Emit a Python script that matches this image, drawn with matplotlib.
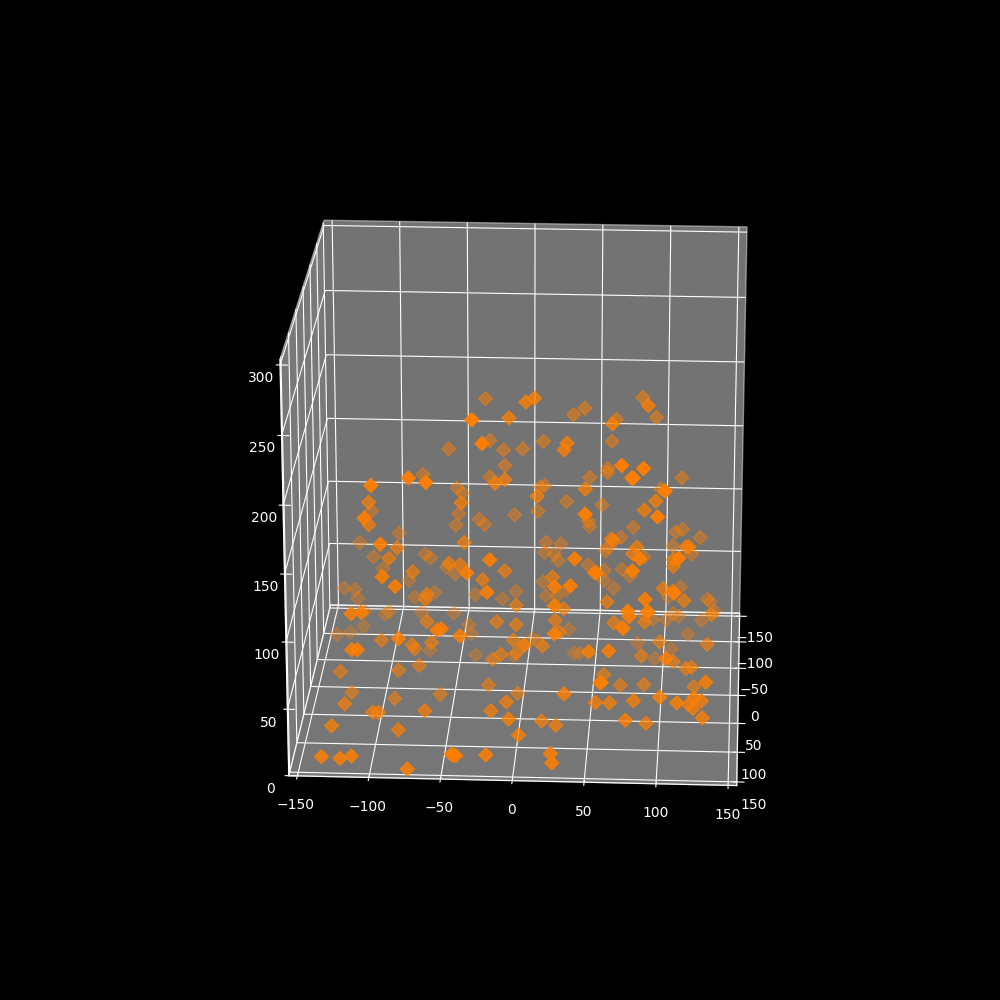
import matplotlib
matplotlib.use("Agg")
import matplotlib.pyplot as plt
import numpy as np

# points grouped by depth band (y)
y_far = -60
x_far = [-31, -28, -58, -18, -17, -28, -77, -52, -48, -115, -51, -53, -10, -36, -32, -95, -124, -114, -76, -72,
         -60, -54, -107, -88, -136, -128, -126, -121, -103, -106, -84, -69, -79, -55, -39, -19, -9, -122, -142,
         -132, -73, -44, -42, -39, -11,
         41, 33, 83, 93, 64, 11, -4, 61, 58, 58, 112, 45, 97, 9, 12, 28, 7, 54, 44, 45, 77, 108, 113, 126, 68,
         13, 24, 12, 19, 22, 58, 57, 85, 106, 120, 44, 56, 69, 75, 11, 56, 28, 13, 21, 63, 112, 103, 132, 134,
         88, 86, 92, 69, 102, 107, 111, 128, 137, 30, 3, 7, 34, 38, 81, 106, 94, 118]
z_far = [202, 170, 163, 163, 151, 142, 143, 133, 129, 114, 113, 104, 113, 109, 105, 97, 89, 78, 81, 78,
         71, 66, 69, 60, 53, 52, 45, 35, 35, 33, 47, 51, 35, 35, 50, 47, 53, 23, 16,
         18, 5, 26, 19, 2, 2,
         196, 191, 205, 190, 188, 170, 164, 171, 150, 147, 144, 143, 135, 135, 136, 124, 116, 122, 109, 105, 105, 102, 104, 98, 97,
         92, 91, 84, 83, 78, 89, 86, 82, 91, 85, 75, 71, 72, 67, 61, 63, 55, 50, 50, 57, 59, 51, 50, 48,
         39, 36, 33, 27, 33, 38, 36, 33, 41, 24, 16, 14, 5, 5, 14, 10, 2, 22]

y_mid = 30
x_mid = [-9, -12, -19, -43, -109, -109, -89, -41, -95, -52, -44, -12, -78, -28, -68, -69, -68, -4, -101, -79,
         -77, -65, -18, -4, -6, -21, -15, -4, -74, -89, -131, -24, -123, -92, -59, -3,
         3, 9, 89, 64, 32, 30, 45, 11, 95, 87, 64, 65, 82, 79, 117, 119, 108, 108, 52, 22,
         30, 61, 101, 108, 116, 88, 66, 136, 24, 27, 15, 86, 99, 109, 133, 118, 122, 71, 88, 124, 59]
z_mid = [220, 174, 171, 156, 155, 138, 121, 126, 113, 110, 109, 105, 103, 98, 86, 82, 65, 79, 50, 47,
         44, 49, 66, 64, 52, 37, 41, 42, 31, 27, 25, 17, 9, 5, 9, 11,
         232, 235, 231, 217, 202, 197, 168, 162, 160, 153, 131, 129, 125, 120, 126, 126, 116, 111, 105, 101,
         77, 83, 94, 92, 85, 68, 67, 75, 68, 59, 48, 42, 53, 38, 52, 33, 34, 19, 20, 19, 27]

y_near = 85
x_near = [-123, -103, -99, -66, -8, -19, -85, 55, 65, 82, 130, 121, 124, 17, 27, 91]
z_near = [24, 18, 18, 20, 28, 21, 5, 29, 29, 31, 32, 29, 26, 14, 11, 14]

y_close = 110
x_close = [-30, -23, -74, -62, -100, -105, -94, -18, -34, -93, -84, -115, -108, -55, -52, -82, -115, -111, -39, -20,
           -5, -130, 2, 73, 88, 80, 81, 103, 48, 98, 41, 86, 113, 56, 81, 27, 38, 27, 90, 110, 78, 92, 79, 75, 27,
           6, 51, 65, 105, 59, 60, 133, 125, 34, 101, 113, 131, 77]
z_close = [247, 230, 204, 201, 198, 174, 155, 145, 135, 131, 124, 103, 104, 92, 93, 85, 76, 76, 88, 121,
           26, 18, 14, 216, 214, 207, 207, 198, 180, 179, 147, 148, 149, 137, 139, 126, 127, 112, 118, 123, 109, 109, 105, 96, 91,
           82, 78, 79, 74, 55, 55, 57, 45, 46, 45, 41, 30, 27]

y_front = 145
x_front = [-134, -40, -19, -121, -113, -43, -42, -74, 26, 27]
z_front = [10, 13, 14, 9, 11, 14, 13, 2, 16, 9]

xs = x_far + x_mid + x_near + x_close + x_front
ys = ([y_far] * len(x_far) + [y_mid] * len(x_mid) + [y_near] * len(x_near)
      + [y_close] * len(x_close) + [y_front] * len(x_front))
zs = z_far + z_mid + z_near + z_close + z_front

plt.style.use("dark_background")
fig = plt.figure(figsize=(10, 10), dpi=100)
ax = fig.add_axes([0.108, 0.09, 0.81, 0.81], projection="3d")
ax.set_box_aspect((1, 1, 0.985), zoom=0.9)
ax.scatter(xs, ys, zs, c="#ff7f00", marker="D", s=50, depthshade=True)
ax.set_xlim(-156, 156)
ax.set_ylim(156, -156)
ax.set_zlim(0, 304)
ax.set_xticks(np.arange(-150, 151, 50))
ax.set_yticks(np.arange(-150, 151, 50))
ax.set_zticks(np.arange(0, 301, 50))
ax.zaxis.set_ticks_position("upper")
ax.view_init(elev=21, azim=-87)
fig.savefig("out.png", facecolor="black")
